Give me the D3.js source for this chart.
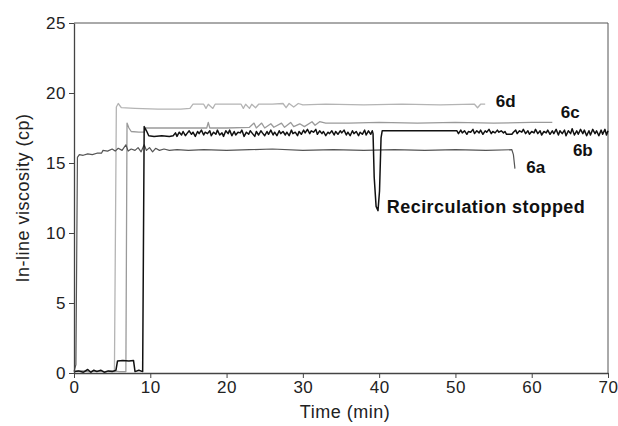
<!DOCTYPE html>
<html lang="en">
<head>
<meta charset="UTF-8">
<title>In-line viscosity</title>
<style>
  body { margin: 0; background: #fff; }
  svg text { font-family: "Liberation Sans", Arial, sans-serif; }
  .axis path, .axis line { stroke: #444; }
  .axis text { font-size: 17px; fill: #222; letter-spacing: 0.5px; }
</style>
</head>
<body>
<div id="chart"></div>
<script src="https://d3js.org/d3.v7.min.js"></script>
<script>
// axis ticks
const xTicks = [0, 10, 20, 30, 40, 50, 60, 70];
const yTicks = [0, 5, 10, 15, 20, 25];

// series: [time (min), viscosity (cp)]
const s6a = [[0,0.1],[0.25,0.6],[0.45,15.4],[0.7,15.6],[1.2,15.55],[1.8,15.65],[2.4,15.6],[3,15.7],[3.6,15.7],[3.8,15.9],[4.4,15.85],
  [5,16.0],[5.4,15.85],[5.8,16.05],[6.3,15.9],[6.8,16.3],[7.1,15.85],[7.5,16.0],[8,15.9],[8.4,16.1],[8.8,15.8],[9.2,16.3],[9.5,15.9],
  [9.9,16.1],[10.3,15.8],[10.7,16.05],[11.2,15.9],[11.8,16.0],[12.5,15.9],[13.5,15.95],[15,15.9],[17,15.95],[20,15.9],[23,15.95],
  [26,16.0],[30,15.9],[34,15.95],[38,15.9],[42,15.95],[46,15.9],[50,15.95],[54,15.9],[57.4,15.95],[57.6,15.6],[57.8,14.6]];

const s6b = [[0,0.1],[0.6,0.15],[1.2,0.05],[1.8,0.25],[2.2,0.05],[2.6,0.2],[3,0.1],[3.5,0.2],[4,0.05],[4.5,0.15],[5,0.1],[5.5,0.2],
  [5.7,0.85],[6.4,0.9],[7.2,0.85],[7.8,0.9],[8,0.1],[8.5,0.2],[9,0.1],[9.2,17.6],[9.5,17.3],[9.8,16.95],[10.5,16.9],[11.5,16.95],
  [12.5,16.9],[13,16.95],[13.3,17.15],[13.5,16.9],[13.8,17.2],[14.1,17.0],[14.3,17.25],[14.6,16.95],[14.8,17.1],[15.1,17.3],
  [15.4,17.05],[15.6,17.2],[15.9,16.9],[16.2,17.25],[16.4,17.1],[16.7,17.35],[17,17.0],[17.2,17.2],[17.5,17.1],[17.8,17.3],
  [18,16.95],[18.3,17.2],[18.6,17.05],[18.8,17.35],[19.1,17.0],[19.4,17.15],[19.6,16.9],[19.9,17.3],[20.2,17.1],[20.4,17.35],
  [20.7,16.95],[21,17.25],[21.2,17.0],[21.5,17.2],[21.8,17.15],[22,17.35],[22.3,16.9],[22.6,17.2],[22.9,17.05],[23.1,17.3],
  [23.4,17.1],[23.7,16.9],[23.9,17.25],[24.2,17.0],[24.5,17.3],[24.7,17.15],[25,16.95],[25.3,17.25],[25.5,17.05],[25.8,17.35],
  [26.1,17.0],[26.3,17.2],[26.6,16.95],[26.9,17.3],[27.1,17.1],[27.4,17.25],[27.7,17.0],[27.9,17.2],[28.2,16.95],[28.5,17.35],
  [28.7,17.1],[29,17.2],[29.3,16.95],[29.5,17.25],[29.8,17.05],[30.1,17.35],[30.3,17.15],[30.6,17.4],[30.9,17.1],[31.1,17.3],
  [31.4,17.2],[31.7,17.4],[31.9,17.05],[32.2,17.3],[32.5,17.1],[32.7,17.25],[33,16.95],[33.3,17.2],[33.5,17.1],[33.8,17.3],
  [34.1,17.0],[34.3,17.25],[34.6,17.05],[34.9,17.3],[35.1,17.15],[35.4,17.35],[35.7,17.0],[35.9,17.2],[36.2,16.95],[36.5,17.3],
  [36.7,17.1],[37,17.25],[37.3,16.95],[37.5,17.2],[37.8,17.05],[38.1,17.35],[38.3,17.0],[38.6,17.3],[38.9,17.05],[39.1,17.3],
  [39.2,17.1],[39.35,14.0],[39.6,11.9],[39.85,11.6],[40.05,13.0],[40.25,16.8],[40.4,17.3],[45,17.3],[50.2,17.3],[50.4,17.1],
  [50.7,17.35],[50.9,17.15],[51.2,17.3],[51.5,17.05],[51.7,17.25],[52,17.2],[52.3,17.4],[52.5,17.1],[52.8,17.3],[53.1,17.15],
  [53.3,17.35],[53.6,17.05],[53.9,17.3],[54.1,17.2],[54.4,17.4],[54.7,17.1],[54.9,17.25],[55.2,17.15],[55.5,17.35],[55.7,17.2],
  [56,17.3],[56.3,17.15],[56.5,17.25],[56.7,17.05],[57.4,17.05],[57.6,17.2],[57.9,17.35],[58.1,17.1],[58.4,17.3],[58.7,17.2],
  [58.9,17.4],[59.2,17.1],[59.5,17.3],[59.7,17.05],[60,17.25],[60.3,17.15],[60.5,17.4],[60.8,17.1],[61.1,17.3],[61.3,17.0],
  [61.6,17.25],[61.9,17.15],[62.1,17.35],[62.4,17.05],[62.7,17.3],[62.9,17.1],[63.2,17.4],[63.5,17.0],[63.7,17.3],[64,17.1],
  [64.3,17.35],[64.5,16.95],[64.8,17.3],[65.1,17.1],[65.3,17.45],[65.6,17.0],[65.9,17.3],[66.1,17.05],[66.4,17.4],[66.7,17.1],
  [66.9,17.35],[67.2,16.95],[67.5,17.3],[67.7,17.0],[68,17.4],[68.3,17.1],[68.5,17.3],[68.8,16.95],[69.1,17.35],[69.3,17.05],
  [69.6,17.4],[69.8,17.0],[70,17.3]];

const s6c = [[0,0.1],[1,0.15],[2,0.1],[3,0.15],[4,0.1],[5,0.15],[6,0.1],[6.8,0.1],[6.95,17.85],[7.2,17.5],[7.5,17.25],[8.5,17.2],
  [9.2,17.2],[9.4,17.5],[12,17.5],[15,17.5],[17.4,17.5],[17.6,17.9],[17.8,17.5],[20,17.5],[23,17.55],[23.6,17.85],[23.9,17.5],
  [24.6,17.85],[25,17.5],[25.8,17.8],[26.2,17.55],[27.2,17.85],[27.6,17.55],[28.4,17.9],[28.8,17.6],[29.6,17.8],[30.2,17.6],
  [31.2,17.95],[31.6,17.7],[32.2,17.95],[33,17.85],[36,17.85],[40,17.9],[45,17.85],[50,17.9],[55,17.85],[60,17.9],[62.7,17.9]];

const s6d = [[0,0.1],[1,0.15],[2,0.1],[3,0.15],[4,0.1],[5.3,0.1],[5.55,19.0],[5.8,19.25],[6.2,18.95],[8,18.9],[11,18.85],
  [14,18.85],[15.2,18.9],[15.6,19.2],[17,19.2],[17.3,18.9],[17.6,19.2],[18.2,18.9],[18.5,19.2],[20,19.2],[21.9,19.2],[22.2,18.9],
  [22.5,19.2],[23,18.9],[23.3,19.2],[23.8,18.95],[24.2,19.2],[26,19.2],[27.4,19.25],[27.8,18.95],[28.2,19.25],[28.8,19.0],
  [29.4,19.25],[30,19.15],[33,19.2],[38,19.15],[43,19.2],[48,19.15],[52.5,19.2],[52.9,18.95],[53.3,19.2],[53.9,19.2]];

const series = [
  { name: '6d', data: s6d, color: '#b4b4b4', width: 1.3 },
  { name: '6c', data: s6c, color: '#9a9a9a', width: 1.3 },
  { name: '6a', data: s6a, color: '#555555', width: 1.2 },
  { name: '6b', data: s6b, color: '#111111', width: 1.5 }
];

// label anchors: [time, viscosity]
const labels = [
  { text: '6d', t: 55.3, v: 19.0, size: 17 },
  { text: '6c', t: 63.8, v: 18.2, size: 17 },
  { text: '6b', t: 65.4, v: 15.5, size: 17 },
  { text: '6a', t: 59.3, v: 14.3, size: 17 },
  { text: 'Recirculation stopped', t: 41.0, v: 11.4, size: 18 }
];

const W = 618, H = 426;
const m = { left: 74, right: 10, top: 23, bottom: 53 };

const svg = d3.select('#chart').append('svg').attr('width', W).attr('height', H);

const x = d3.scaleLinear().domain([0, 70]).range([m.left, W - m.right]);
const y = d3.scaleLinear().domain([0, 25]).range([H - m.bottom, m.top]);

// frame top / right
svg.append('path')
  .attr('d', `M${x(0)},${y(25)}H${x(70)}V${y(0)}`)
  .attr('fill', 'none').attr('stroke', '#555').attr('stroke-width', 1);

const line = d3.line().x(d => x(d[0])).y(d => y(d[1]));

svg.append('g').selectAll('path')
  .data(series)
  .join('path')
  .attr('d', d => line(d.data))
  .attr('fill', 'none')
  .attr('stroke', d => d.color)
  .attr('stroke-width', d => d.width)
  .attr('stroke-linejoin', 'round');

svg.append('g')
  .attr('class', 'axis')
  .attr('transform', `translate(0,${y(0)})`)
  .call(d3.axisBottom(x).tickValues(xTicks).tickSizeInner(5).tickSizeOuter(0).tickPadding(3));

svg.append('g')
  .attr('class', 'axis')
  .attr('transform', `translate(${x(0)},0)`)
  .call(d3.axisLeft(y).tickValues(yTicks).tickSizeInner(5).tickSizeOuter(0).tickPadding(3));

svg.selectAll('.axis path').attr('stroke-width', 1.3);

svg.append('text')
  .attr('x', (x(0) + x(70)) / 2 + 4)
  .attr('y', 418)
  .attr('text-anchor', 'middle')
  .style('font-size', '18px')
  .style('letter-spacing', '0.5px')
  .style('fill', '#222')
  .text('Time (min)');

svg.append('text')
  .attr('transform', `translate(29,${(y(0) + y(25)) / 2}) rotate(-90)`)
  .attr('text-anchor', 'middle')
  .style('font-size', '18px')
  .style('letter-spacing', '0.5px')
  .style('fill', '#222')
  .text('In-line viscosity (cp)');

svg.append('g').selectAll('text')
  .data(labels)
  .join('text')
  .attr('x', d => x(d.t))
  .attr('y', d => y(d.v))
  .style('font-size', d => d.size + 'px')
  .style('letter-spacing', d => d.size === 18 ? '0.45px' : '0px')
  .style('font-weight', 'bold')
  .style('fill', '#111')
  .text(d => d.text);
</script>
</body>
</html>
